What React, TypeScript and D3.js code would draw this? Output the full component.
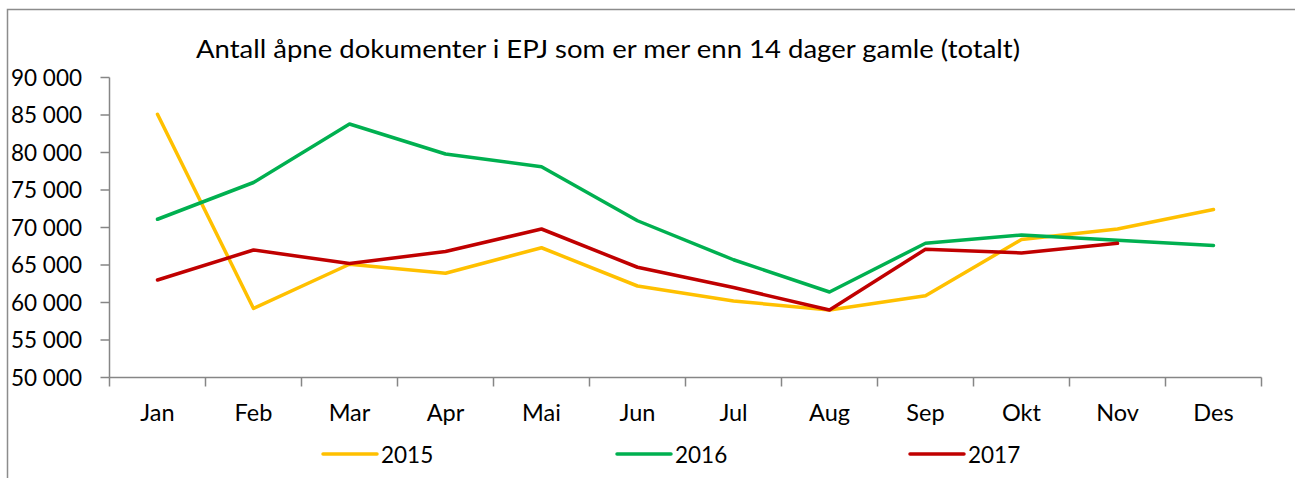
import React, { useEffect, useRef } from 'react';
import * as d3 from 'd3';

const months = ['Jan', 'Feb', 'Mar', 'Apr', 'Mai', 'Jun', 'Jul', 'Aug', 'Sep', 'Okt', 'Nov', 'Des'];
const yTicks = [50000, 55000, 60000, 65000, 70000, 75000, 80000, 85000, 90000];

const values2015 = [85100, 59200, 65100, 63900, 67300, 62200, 60200, 59000, 60900, 68400, 69800, 72400];
const values2016 = [71100, 76000, 83800, 79800, 78100, 70900, 65700, 61400, 67900, 69000, 68300, 67600];
const values2017 = [63000, 67000, 65200, 66800, 69800, 64700, 62000, 59000, 67100, 66600, 67900];

const seriesNames = ['2015', '2016', '2017'];
const seriesColors = ['#FFC000', '#00B050', '#C00000'];

const W = 1295;
const H = 478;
const FONT = 'Lato, "Open Sans", sans-serif';

export default function App() {
  const svgRef = useRef<SVGSVGElement>(null);

  useEffect(() => {
    if (!svgRef.current) return;
    const svg = d3.select(svgRef.current);
    svg.selectAll('*').remove();

    const plot = { left: 109.5, right: 1261.5, top: 77.5, bottom: 377.5 };

    // outer chart frame (runs past the window on right and bottom)
    svg.append('rect')
      .attr('x', 7.5)
      .attr('y', 9.5)
      .attr('width', W + 20)
      .attr('height', H + 20)
      .attr('fill', 'white')
      .attr('stroke', '#8c8c8c')
      .attr('stroke-width', 1.5);

    svg.append('text')
      .attr('x', 196)
      .attr('y', 58)
      .attr('font-family', FONT)
      .attr('font-size', 25)
      .attr('fill', '#000')
      .attr('textLength', 824)
      .attr('lengthAdjust', 'spacingAndGlyphs')
      .text('Antall åpne dokumenter i EPJ som er mer enn 14 dager gamle (totalt)');

    const x = d3.scaleBand<string>().domain(months).range([plot.left, plot.right]);
    const y = d3.scaleLinear().domain([50000, 90000]).range([plot.bottom, plot.top]);
    const cx = (m: string) => (x(m) ?? 0) + x.bandwidth() / 2;

    const axisColor = '#868686';
    const fmt = (v: number) => d3.format(',')(v).replace(/,/g, ' ');

    // y axis
    svg.append('line')
      .attr('x1', plot.left).attr('x2', plot.left)
      .attr('y1', plot.top).attr('y2', plot.bottom)
      .attr('stroke', axisColor).attr('stroke-width', 1.5);

    yTicks.forEach((t) => {
      svg.append('line')
        .attr('x1', plot.left - 9).attr('x2', plot.left)
        .attr('y1', y(t)).attr('y2', y(t))
        .attr('stroke', axisColor).attr('stroke-width', 1.5);
      svg.append('text')
        .attr('x', 82)
        .attr('y', y(t) + 8)
        .attr('text-anchor', 'end')
        .attr('font-family', FONT)
        .attr('font-size', 22.5)
        .attr('fill', '#000')
        .text(fmt(t));
    });

    // x axis
    svg.append('line')
      .attr('x1', plot.left).attr('x2', plot.right)
      .attr('y1', plot.bottom).attr('y2', plot.bottom)
      .attr('stroke', axisColor).attr('stroke-width', 1.5);

    const edges = months.map((m) => x(m) ?? 0).concat([plot.right]);
    edges.forEach((ex) => {
      svg.append('line')
        .attr('x1', ex).attr('x2', ex)
        .attr('y1', plot.bottom).attr('y2', plot.bottom + 9)
        .attr('stroke', axisColor).attr('stroke-width', 1.5);
    });

    months.forEach((m) => {
      svg.append('text')
        .attr('x', cx(m))
        .attr('y', 421)
        .attr('text-anchor', 'middle')
        .attr('font-family', FONT)
        .attr('font-size', 23.5)
        .attr('fill', '#000')
        .text(m);
    });

    // series
    const allSeries = [values2015, values2016, values2017];
    const line = d3.line<number>()
      .x((_, i) => cx(months[i]))
      .y((d) => y(d));

    allSeries.forEach((vals, i) => {
      svg.append('path')
        .attr('d', line(vals) ?? '')
        .attr('fill', 'none')
        .attr('stroke', seriesColors[i])
        .attr('stroke-width', 3.5)
        .attr('stroke-linejoin', 'round')
        .attr('stroke-linecap', 'round');
    });

    // legend
    const legendX = [323, 617, 910];
    seriesNames.forEach((name, i) => {
      const g = svg.append('g').attr('transform', `translate(${legendX[i]},454)`);
      g.append('line')
        .attr('x1', 0).attr('x2', 54)
        .attr('y1', 0).attr('y2', 0)
        .attr('stroke', seriesColors[i])
        .attr('stroke-width', 3.5)
        .attr('stroke-linecap', 'round');
      g.append('text')
        .attr('x', 58)
        .attr('y', 9)
        .attr('font-family', FONT)
        .attr('font-size', 22.5)
        .attr('fill', '#000')
        .text(name);
    });
  }, []);

  return (
    <svg
      ref={svgRef}
      width={W}
      height={H}
      style={{ position: 'absolute', left: 0, top: 0, display: 'block', background: 'white' }}
    />
  );
}
